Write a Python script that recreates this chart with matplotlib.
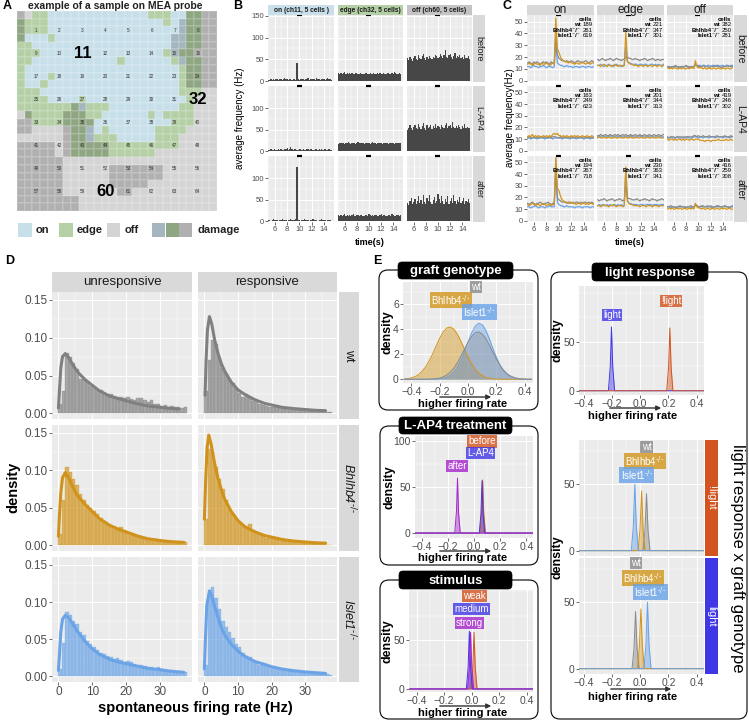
import numpy as np
import matplotlib
matplotlib.use('Agg')
import matplotlib.pyplot as plt
from matplotlib.colors import ListedColormap
from matplotlib.patches import Rectangle, FancyBboxPatch, FancyArrowPatch

plt.rcParams['font.family'] = ['Liberation Sans', 'DejaVu Sans']
plt.rcParams['mathtext.fontset'] = 'dejavusans'

# ---------------- data ----------------
# panel A: MEA probe map, 26x26 sub-cells (o=on e=edge f=off, capitals = damage)
MEA_MAP = [
    "Ff ee ooooo ooooo ooo eee oo EE FF",
    "E eee ooooo ooooo ooooo e o O EE FF",
    "E eee ooooo ooooo ooooo oo O EE FF",
    "E ooo e ooooo ooooo ooooo OO EE FF",
    "ee ooooo ooooo ooooo ooo OO EE FF",
    "eee ooooo ooooo ooooo o e O EE FF",
    "ee ooooo ooooo o e ooooo o e O EE FF",
    "e ooooo ooooo ooooo ooooo e EE FF",
    "eooo e ooooo ooooo ooooo o e EE FF",
    "eoo e ooooo ooooo ooooo oo e EE FF",
    "eee ooooo ooooo ooooo ooo e ee ff",
    "eeee oooo e ooooo ooooo ooo e fff",
    "eeeeeee E O eee ooooo oooo ee fff",
    "fE eeee EEE ee oooooo e o eee e fff",
    "FF eeee EEEE ooooo ooooo eee fff",
    "FF ffff F EE O o e oooooo eeee ffff",
    "ffffff F EE O eee ooooo eee fffff",
    "FFFFF f F EEEEE eeeee eeee fffff",
    "FFFFF f F EEEEE eeeeee fffff fff",
    "FFFFFF fffff fffff fffff fffff",
    "FFFFFF ffffff FFFFF FF fffffff",
    "FFFFFF ffffff FFFFF FF fffffff",
    "FFFFFF ffffff FFFFF fffff ffff",
    "FFFFFF fffffff FF fffff ffffff",
    "FFFFFFFF fffff fffff fffff fff",
    "FFFFFFFF fffff fffff fffff fff",
]
BIG_CHANNELS = [11, 32, 60]
MAP_CATS = ['on', 'edge', 'off', 'damage']

# panel B: average frequency histograms (0.2 s bins starting 4.9 s)
B_COLS = ["on (ch11, 5 cells )", "edge (ch32, 5 cells)", "off (ch60, 5 cells)"]
B_ROWS = ["before", "L-AP4", "after"]
B_ON_BEFORE = [3,2,4,3,5,3,4,6,3,4, 5,3,4,8,5,4,3,6,4,3, 5,4,3,42,4,3,5,4,6,3,
               4,5,7,3,4,6,5,4,3,8, 5,4,3,4,6,5,3,4,7,5, 4,3]
B_EDGE_BEFORE = [18,17,19,16,18,20,17,18,16,19, 17,18,16,17,19,18,17,16,18,17,
                 16,17,18,19,17,16,18,17,16,18, 17,16,18,17,19,16,17,18,17,16,
                 18,19,17,16,18,17,20,18,16,17, 18,17]
B_OFF_BEFORE = [52,48,55,50,47,53,58,51,49,60, 54,50,57,62,52,49,55,51,58,54,
                50,56,53,60,57,52,55,63,58,54, 61,72,56,53,59,62,55,51,57,64,
                53,58,55,61,52,56,50,59,54,52, 57,50]
B_ON_LAP4 = [2,3,4,2,3,5,3,2,6,3, 4,2,3,5,4,8,3,4,9,5, 3,4,6,3,2,4,5,3,4,2,
             3,5,4,3,6,4,3,2,4,5, 3,4,2,6,3,4,5,3,2,4, 3,2]
B_EDGE_LAP4 = [17,18,19,20,18,17,19,18,21,18, 17,19,20,18,17,19,21,18,20,19,
               18,17,19,18,20,19,17,18,21,19, 18,17,19,20,18,19,17,18,20,18,
               19,17,18,20,19,18,17,19,18,20, 18,19]
B_OFF_LAP4 = [50,55,60,53,49,57,62,54,51,64, 56,52,58,66,55,50,60,53,57,61,
              52,58,55,63,54,59,56,52,61,57, 53,60,65,55,58,62,54,68,57,55,
              59,53,61,56,52,58,55,63,54,57, 53,55]
B_ON_AFTER = [2,3,1,2,4,2,3,2,1,3, 2,4,2,3,2,1,3,2,4,2, 3,2,4,125,3,2,1,3,2,4,
              2,3,2,1,3,2,4,2,3,2, 1,3,2,4,2,3,2,1,2,3, 2,1]
B_EDGE_AFTER = [14,13,15,12,14,16,13,14,12,15, 13,14,16,13,12,15,14,13,15,14,
                12,13,15,14,13,16,14,12,15,13, 14,15,13,12,14,16,13,15,14,12,
                13,15,14,13,16,14,12,13,15,14, 13,14]
B_OFF_AFTER = [42,38,46,55,40,44,52,39,47,58, 43,50,41,60,45,39,53,48,62,44,
               40,49,56,43,47,64,51,42,58,46, 40,52,45,59,41,48,55,43,61,47,
               39,50,44,57,42,46,53,40,48,45, 51,43]

# panel C: mean traces, 43 points from 5 to 15.5 s ; [wt, Bhlhb4, Islet1]
C_COLS = ["on", "edge", "off"]
C_ON_BEFORE = [
    [15,16,15,14,16,15,16,15,14,15,16,15,16,15,14,16,15,15,38,
     22,19,18,17,17,16,17,16,16,17,16,15,16,17,16,16,15,16,17,16,15,16,17,16],
    [14,15,14,13,14,15,14,14,13,15,14,14,15,14,13,14,15,14,53,
     27,24,20,18,17,16,16,15,16,15,15,14,15,15,14,15,16,15,14,15,15,14,15,15],
    [12,12,11,12,13,12,12,11,12,12,13,12,11,12,12,12,11,12,33,
     15,14,13,13,12,12,13,12,12,12,11,12,12,12,11,12,12,12,11,12,12,12,11,12]]
C_EDGE_BEFORE = [
    [18,17,18,19,18,17,18,18,19,18,17,18,19,18,18,17,18,18,20,
     20,19,19,18,18,19,18,18,17,18,18,19,18,17,18,18,19,18,17,18,18,17,18,18],
    [13,13,12,13,14,13,12,13,13,12,13,14,13,12,13,13,12,13,41,
     17,15,14,14,13,13,13,12,13,13,12,13,13,12,13,13,12,13,13,12,13,13,12,13],
    [13,13,14,13,12,13,13,14,13,13,12,13,14,13,13,12,13,13,28,
     16,15,15,14,14,14,14,13,14,14,13,14,14,13,13,14,14,13,14,13,14,13,13,14]]
C_OFF_BEFORE = [
    [12,12,11,12,12,13,12,12,11,12,12,12,13,12,12,11,12,12,13,
     13,12,12,12,13,12,12,12,11,12,12,12,13,12,12,12,11,12,12,12,13,12,12,12],
    [11,10,11,10,11,11,10,10,11,10,11,10,10,11,10,11,11,10,17,
     12,11,11,11,10,11,10,10,11,10,10,11,10,10,11,10,10,11,10,10,11,10,10,11],
    [12,11,12,12,11,12,12,11,12,12,11,12,12,12,11,12,12,12,14,
     13,13,13,12,13,13,12,13,13,12,13,13,12,13,13,12,13,13,12,13,13,12,13,13]]
C_ON_LAP4 = [
    [11,12,11,11,12,11,12,11,11,12,11,12,11,11,12,11,12,12,12,
     11,11,12,11,11,12,11,11,11,12,11,11,12,11,11,12,11,11,12,11,11,12,11,11],
    [12,13,12,14,12,13,12,13,12,12,13,12,13,12,13,12,14,15,14,
     15,13,13,12,13,12,13,12,12,13,12,13,12,13,12,12,13,12,12,13,12,12,13,12],
    [11,11,10,11,11,11,10,11,11,11,11,10,11,11,11,11,10,11,11,
     11,11,11,10,11,11,11,11,10,11,11,11,10,11,11,11,11,10,11,11,11,10,11,11]]
C_EDGE_LAP4 = [
    [13,13,14,13,13,14,13,13,14,13,13,14,13,14,13,13,14,13,14,
     13,13,14,13,13,14,13,13,14,13,13,14,13,13,14,13,13,14,13,13,14,13,13,14],
    [11,12,11,11,12,11,11,12,11,11,11,12,11,11,12,11,11,11,12,
     11,11,12,11,11,11,12,11,11,12,11,11,11,12,11,11,12,11,11,11,12,11,11,11],
    [12,12,12,13,12,12,12,12,13,12,12,12,12,12,13,12,12,12,12,
     12,12,13,12,12,12,12,12,13,12,12,12,12,13,12,12,12,12,12,13,12,12,12,12]]
C_OFF_LAP4 = [
    [12,11,12,12,12,11,12,12,12,12,11,12,12,12,12,12,12,13,13,
     12,13,12,12,13,12,12,12,13,12,12,12,12,13,12,12,12,12,13,12,12,12,13,12],
    [10,9,10,10,9,10,9,10,10,9,10,9,10,10,9,10,10,9,10,
     10,10,9,9,9,8,9,9,9,8,9,9,9,9,10,9,9,9,9,10,9,9,10,9],
    [11,11,12,11,11,11,12,11,11,11,12,11,11,12,11,11,11,12,12,
     12,11,12,12,11,12,12,12,11,12,12,12,11,12,12,12,12,11,12,12,12,11,12,12]]
C_ON_AFTER = [
    [15,14,15,16,15,14,15,15,16,15,14,15,15,16,15,14,15,15,42,
     20,18,17,16,16,16,15,16,16,15,16,15,16,16,15,16,15,16,16,15,16,15,16,15],
    [14,13,14,15,14,13,14,14,13,14,15,14,13,14,14,13,14,14,54,
     28,26,21,18,17,16,16,15,15,16,15,15,14,15,15,14,15,15,14,15,14,15,15,14],
    [12,12,11,12,12,13,12,11,12,12,12,11,12,12,13,12,12,12,53,
     16,14,13,13,12,12,13,12,12,12,12,11,12,12,12,12,11,12,12,12,12,11,12,12]]
C_EDGE_AFTER = [
    [18,17,18,18,19,18,17,18,18,19,18,17,18,18,19,18,17,18,30,
     20,19,19,18,18,18,19,18,17,18,18,19,18,18,17,18,19,18,18,17,18,18,19,18],
    [13,13,12,13,14,13,13,12,13,13,14,13,12,13,13,13,12,13,46,
     18,15,14,14,13,13,13,13,12,13,13,13,12,13,13,13,12,13,13,13,12,13,13,13],
    [13,14,13,14,13,13,14,13,14,13,13,14,13,14,13,14,13,13,44,
     17,15,15,14,14,14,14,13,14,14,14,13,14,14,14,14,13,14,14,14,13,14,14,14]]
C_OFF_AFTER = [
    [12,12,13,12,12,11,12,12,13,12,12,12,11,12,12,13,12,12,14,
     13,12,12,13,12,12,12,13,12,12,11,12,12,13,12,12,12,12,13,12,12,11,12,12],
    [10,11,10,11,10,10,11,10,11,10,10,11,10,10,11,10,11,10,15,
     12,11,11,10,11,10,10,11,10,10,11,10,10,11,10,10,11,10,11,10,10,11,10,10],
    [12,12,11,12,12,12,11,12,12,12,12,11,12,12,12,11,12,12,13,
     13,12,12,12,13,12,12,12,12,13,12,12,12,12,13,12,12,12,13,12,12,12,12,13]]
CELLS_BEFORE = [[189, 261, 619], [221, 347, 301], [382, 250, 281]]
CELLS_LAP4 = [[163, 249, 623], [201, 344, 313], [419, 246, 302]]
CELLS_AFTER = [[194, 267, 718], [230, 363, 341], [416, 259, 308]]

# panel D: spontaneous firing rate histograms (1 Hz bins from 0) and fitted densities
D_COLS = ["unresponsive", "responsive"]
WT_UN_BARS = [0.012,0.030,0.080,0.075,0.066,0.058,0.046,0.045,0.040,0.036,
              0.034,0.030,0.031,0.027,0.025,0.026,0.023,0.022,0.022,0.020,
              0.022,0.019,0.018,0.020,0.020,0.017,0.015,0.017,0.012,0.013,
              0.010,0.011,0.009,0.010,0.008,0.008,0.007,0.008]
WT_RE_BARS = [0.030,0.070,0.097,0.092,0.072,0.060,0.052,0.045,0.040,0.032,
              0.027,0.022,0.026,0.020,0.016,0.015,0.012,0.011,0.010,0.009,
              0.008,0.008,0.007,0.006,0.006,0.005,0.005,0.004,0.004,0.004,
              0.003,0.003,0.003,0.002,0.002,0.002,0.002,0.002]
BHL_UN_BARS = [0.015,0.060,0.105,0.098,0.088,0.080,0.068,0.060,0.054,0.050,
               0.046,0.042,0.036,0.032,0.027,0.025,0.022,0.020,0.024,0.019,
               0.016,0.014,0.013,0.012,0.013,0.011,0.010,0.009,0.008,0.007,
               0.006,0.006,0.005,0.005,0.004,0.004,0.004,0.004]
BHL_RE_BARS = [0.035,0.128,0.125,0.105,0.088,0.075,0.060,0.048,0.042,0.035,
               0.030,0.026,0.024,0.028,0.020,0.017,0.015,0.013,0.010,0.010,
               0.009,0.008,0.007,0.006,0.006,0.005,0.004,0.004,0.004,0.003,
               0.003,0.003,0.002,0.002,0.002,0.002,0.001,0.001]
ISL_UN_BARS = [0.010,0.045,0.087,0.083,0.074,0.070,0.060,0.056,0.048,0.044,
               0.040,0.036,0.032,0.030,0.028,0.026,0.024,0.025,0.022,0.020,
               0.021,0.019,0.017,0.016,0.015,0.014,0.013,0.012,0.011,0.012,
               0.010,0.009,0.008,0.008,0.007,0.007,0.006,0.006]
ISL_RE_BARS = [0.015,0.112,0.120,0.105,0.090,0.075,0.066,0.060,0.052,0.044,
               0.040,0.032,0.028,0.026,0.022,0.020,0.016,0.015,0.014,0.012,
               0.011,0.010,0.009,0.008,0.008,0.007,0.006,0.006,0.005,0.005,
               0.004,0.004,0.004,0.003,0.003,0.003,0.003,0.002]
WT_UN_CX = [0, 0.3, 0.7, 1.2, 2, 3, 4, 5, 6, 8, 10, 12, 15, 18, 20, 23, 26, 30, 33, 35.5]
WT_UN_CY = [0.007, 0.03, 0.06, 0.075, 0.079, 0.074, 0.066, 0.059, 0.053, 0.044, 0.037,
            0.030, 0.023, 0.019, 0.0165, 0.013, 0.010, 0.008, 0.0065, 0.0057]
WT_RE_CX = [0.2, 0.5, 0.9, 1.5, 2.2, 3, 4, 5, 6, 8, 10, 12, 15, 18, 20, 23, 26, 30, 33, 36]
WT_RE_CY = [0.024, 0.07, 0.11, 0.128, 0.118, 0.098, 0.08, 0.066, 0.056, 0.041, 0.031,
            0.025, 0.018, 0.013, 0.011, 0.008, 0.0065, 0.005, 0.004, 0.0035]
BHL_UN_CX = [0, 0.3, 0.7, 1.2, 2, 3, 4, 5, 6, 8, 10, 12, 15, 18, 20, 23, 26, 30, 33, 37]
BHL_UN_CY = [0.012, 0.04, 0.07, 0.09, 0.097, 0.09, 0.08, 0.071, 0.064, 0.054, 0.045,
             0.036, 0.027, 0.021, 0.018, 0.013, 0.009, 0.0065, 0.005, 0.004]
BHL_RE_CX = [0, 0.4, 0.8, 1.3, 2, 3, 4, 5, 6, 8, 10, 12, 15, 18, 20, 23, 26, 30, 33, 36]
BHL_RE_CY = [0.035, 0.09, 0.13, 0.147, 0.135, 0.11, 0.09, 0.075, 0.062, 0.045, 0.033,
             0.025, 0.018, 0.013, 0.011, 0.008, 0.006, 0.0045, 0.0035, 0.003]
ISL_UN_CX = [0, 0.3, 0.7, 1.2, 2, 3, 4, 5, 6, 8, 10, 12, 15, 18, 20, 23, 26, 30, 33, 37]
ISL_UN_CY = [0.008, 0.03, 0.06, 0.077, 0.082, 0.079, 0.072, 0.065, 0.058, 0.046, 0.037,
             0.030, 0.023, 0.019, 0.017, 0.014, 0.011, 0.009, 0.007, 0.0055]
ISL_RE_CX = [0, 0.3, 0.7, 1.5, 2.2, 3, 4, 5, 6, 8, 10, 12, 15, 18, 20, 23, 26, 30, 33, 36]
ISL_RE_CY = [0.01, 0.05, 0.095, 0.115, 0.108, 0.095, 0.08, 0.066, 0.056, 0.043, 0.034,
             0.027, 0.020, 0.016, 0.013, 0.010, 0.008, 0.006, 0.005, 0.004]

# panel E: posterior densities of effect on firing rate
GRAFT_X = np.linspace(-0.45, 0.45, 37)
GRAFT_BHL = [0.025,0.054,0.11,0.21,0.37,0.63,0.99,1.47,2.04,2.68,3.29,3.80,4.12,4.19,
             4.02,3.61,3.05,2.42,1.80,1.26,0.83,0.51,0.30,0.16,0.083,0.04,0.018,
             0.008,0.003,0.001,0,0,0,0,0,0,0]
GRAFT_ISL = [0,0,0,0,0,0,0.001,0.002,0.005,0.011,0.029,0.068,0.148,0.30,0.56,0.95,1.51,
             2.21,2.98,3.70,4.25,4.49,4.39,3.95,3.28,2.51,1.78,1.16,0.70,0.39,0.20,
             0.094,0.041,0.017,0.006,0.002,0.001]
GRAFT_WT = [0,0,0,0,0.001,0.002,0.004,0.01,0.023,0.049,0.099,0.19,0.34,0.57,0.90,1.33,
            1.85,2.42,2.97,3.43,3.72,3.80,3.63,3.27,2.76,2.19,1.63,1.14,0.75,0.46,0.27,
            0.15,0.075,0.036,0.016,0.007,0.003]
SPIKE_Y_LAP4 = [0, 0, 22, 58, 22, 0, 0]
LAP4_BEFORE_X = [-0.45, 0.045, 0.058, 0.066, 0.074, 0.087, 0.45]
LAP4_LAP4_X = [-0.45, 0.040, 0.053, 0.061, 0.069, 0.082, 0.45]
LAP4_LAP4_Y = [0, 0, 21, 57, 21, 0, 0]
LAP4_AFTER_X = [-0.45, -0.147, -0.134, -0.126, -0.118, -0.105, 0.45]
LAP4_AFTER_Y = [0, 0, 23, 60, 23, 0, 0]
STIM_WEAK_X = [-0.45, -0.005, 0.008, 0.017, 0.026, 0.039, 0.45]
STIM_WEAK_Y = [0, 0, 22, 58, 22, 0, 0]
STIM_MED_X = [-0.45, -0.039, -0.026, -0.017, -0.008, 0.005, 0.45]
STIM_MED_Y = [0, 0, 22, 59, 22, 0, 0]
STIM_STRONG_X = [-0.45, -0.030, -0.017, -0.008, 0.001, 0.014, 0.45]
STIM_STRONG_Y = [0, 0, 21, 58, 21, 0, 0]
LR_LIGHT_X = [-0.44, -0.227, -0.214, -0.205, -0.196, -0.183, 0.45]
LR_LIGHT_Y = [0, 0, 24, 65, 24, 0, 0]
LR_NOLIGHT_X = [-0.44, 0.188, 0.201, 0.210, 0.219, 0.232, 0.45]
LR_NOLIGHT_Y = [0, 0, 24, 64, 24, 0, 0]
NL_ISL_X = [-0.44, -0.064, -0.050, -0.039, -0.028, -0.014, 0.45]
NL_ISL_Y = [0, 0, 18, 50, 18, 0, 0]
NL_BHL_X = [-0.44, -0.016, -0.002, 0.009, 0.020, 0.034, 0.45]
NL_BHL_Y = [0, 0, 16, 45, 16, 0, 0]
NL_WT_X = [-0.44, 0.019, 0.033, 0.044, 0.055, 0.069, 0.45]
NL_WT_Y = [0, 0, 15, 43, 15, 0, 0]
L_WT_X = [-0.44, -0.059, -0.045, -0.034, -0.023, -0.009, 0.45]
L_WT_Y = [0, 0, 15, 43, 15, 0, 0]
L_BHL_X = [-0.44, -0.021, -0.007, 0.004, 0.015, 0.029, 0.45]
L_BHL_Y = [0, 0, 16, 45, 16, 0, 0]
L_ISL_X = [-0.44, 0.026, 0.040, 0.051, 0.062, 0.076, 0.45]
L_ISL_Y = [0, 0, 18, 50, 18, 0, 0]

# ---------------- figure helpers ----------------
W, H = 749, 721
fig = plt.figure(figsize=(W / 100, H / 100), dpi=100)

GREY_TXT = '#4d4d4d'
C_WT, C_BHL, C_ISL = '#8a8a8a', '#d3951c', '#68a2e8'
C_RED, C_BLUE, C_PURP = '#d2541f', '#3f37e6', '#a526cc'
BHL_LAB = r'Bhlhb4$^{\text{-/-}}$'
ISL_LAB = r'Islet1$^{\text{-/-}}$'
BHL_PLAIN = 'Bhlhb4\u207b/\u207b'
ISL_PLAIN = 'Islet1\u207b/\u207b'


def add_ax(x0, y0, x1, y1):
    return fig.add_axes([x0 / W, 1 - y1 / H, (x1 - x0) / W, (y1 - y0) / H])


def ftext(x, y, s, **kw):
    return fig.text(x / W, 1 - y / H, s, **kw)


def frect(x0, y0, x1, y1, **kw):
    fig.add_artist(Rectangle((x0 / W, 1 - y1 / H), (x1 - x0) / W, (y1 - y0) / H,
                             transform=fig.transFigure, **kw))


def strip(x0, y0, x1, y1, s, fc='#d9d9d9', color='#1a1a1a', fs=7, rot=0, **kw):
    frect(x0, y0, x1, y1, fc=fc, ec='none')
    ftext((x0 + x1) / 2, (y0 + y1) / 2, s, ha='center', va='center', rotation=rot,
          fontsize=fs, color=color, **kw)


def gg(ax, xlim, ylim, xmaj, ymaj, xmin=(), ymin=(), fs=6, show_x=True, show_y=True):
    ax.set_facecolor('#ebebeb')
    ax.set_xlim(xlim)
    ax.set_ylim(ylim)
    ax.set_xticks(xmaj)
    ax.set_yticks(ymaj)
    ax.set_xticks(xmin, minor=True)
    ax.set_yticks(ymin, minor=True)
    ax.grid(True, which='major', color='white', lw=0.7)
    ax.grid(True, which='minor', color='white', lw=0.35)
    ax.set_axisbelow(True)
    for s in ax.spines.values():
        s.set_visible(False)
    ax.tick_params(which='major', length=2, width=0.5, color='#333333', labelsize=fs,
                   labelcolor=GREY_TXT, pad=1)
    ax.tick_params(which='minor', length=0)
    ax.tick_params(labelbottom=show_x, bottom=show_x, labelleft=show_y, left=show_y)


def rbox(x0, y0, x1, y1, r=8, **kw):
    fig.add_artist(FancyBboxPatch((x0 / 100, (H - y1) / 100), (x1 - x0) / 100, (y1 - y0) / 100,
                                  boxstyle='round,pad=0,rounding_size=%g' % (r / 100),
                                  transform=fig.dpi_scale_trans, zorder=-2, **kw))


def arrow(x0, x1, y):
    fig.add_artist(FancyArrowPatch((x0 / 100, (H - y) / 100), (x1 / 100, (H - y) / 100),
                                   transform=fig.dpi_scale_trans, arrowstyle='-|>',
                                   mutation_scale=7, lw=1.0, color='#333333'))


def tag(ax, x, y, s, c, fs=7):
    ax.text(x, y, s, ha='center', va='center', fontsize=fs, color='white',
            bbox=dict(boxstyle='square,pad=0.12', fc=c, ec='none', alpha=0.8))


def ridge(ax, x, y, c, alpha=0.45):
    ax.fill_between(x, y, color=c, alpha=alpha, lw=0)
    ax.plot(x, y, color=c, lw=0.7)


# ---------------- panel A ----------------
ftext(3, 6, 'A', fontsize=9, fontweight='bold', va='center')
ftext(115, 6, 'example of a sample on MEA probe', fontsize=7.5, fontweight='bold',
      ha='center', va='center', color='#222222')
code = {'o': 0, 'e': 1, 'f': 2, 'O': 3, 'E': 4, 'F': 5}
rows = []
for r in MEA_MAP:
    r = r.replace(' ', '')
    r = r.ljust(26, r[-1])[:26]
    rows.append([code[c] for c in r])
grid = np.array(rows)
map_colors = ['#c7dfe9', '#b5cfa6', '#d4d4d4', '#a5b6bf', '#8fa682', '#b0b0b0']
axA = add_ax(17, 11, 217, 211)
axA.pcolormesh(np.arange(27), np.arange(27), grid, cmap=ListedColormap(map_colors),
               vmin=-0.5, vmax=5.5, edgecolors=(1, 1, 1, 0.12), lw=0.2)
axA.set_xlim(0, 26)
axA.set_ylim(26, 0)
axA.axis('off')
for k in range(64):
    cx, cy = 2.5 + 3 * (k % 8), 2.5 + 3 * (k // 8)
    if k + 1 in BIG_CHANNELS:
        axA.text(cx, cy, str(k + 1), ha='center', va='center', fontsize=12,
                 fontweight='bold', color='black')
    else:
        axA.text(cx, cy, str(k + 1), ha='center', va='center', fontsize=3.3, color='#333333')
# legend
leg_boxes = [(18, 32, 0), (59, 73, 1), (107, 120, 2), (152, 165, 3), (166, 179, 4), (179, 192, 5)]
for x0, x1, ci in leg_boxes:
    frect(x0, 223, x1, 237, fc=map_colors[ci], ec='none')
for x, s in zip([36, 77, 125, 197], MAP_CATS):
    ftext(x, 230, s, fontsize=8, fontweight='bold', va='center', color='#222222')

# ---------------- panel B ----------------
ftext(233, 6, 'B', fontsize=9, fontweight='bold', va='center')
B_X = [(268, 334), (338, 403), (407, 472)]
B_Y = [(15, 82), (86, 152), (156, 222)]
b_data = [[B_ON_BEFORE, B_EDGE_BEFORE, B_OFF_BEFORE],
          [B_ON_LAP4, B_EDGE_LAP4, B_OFF_LAP4],
          [B_ON_AFTER, B_EDGE_AFTER, B_OFF_AFTER]]
strip_fc = ['#c9e0ea', '#b4cfa6', '#c4c4c4']
for j, (x0, x1) in enumerate(B_X):
    strip(x0, 5, x1, 15, B_COLS[j], fc=strip_fc[j], fs=4.8, fontweight='bold')
for i, (y0, y1) in enumerate(B_Y):
    strip(473, y0, 485, y1, B_ROWS[i], fs=6.5, rot=270)
    for j, (x0, x1) in enumerate(B_X):
        ax = add_ax(x0, y0, x1, y1)
        gg(ax, (4.9, 15.6), (-2, 151.6), [6, 8, 10, 12, 14],
           [0, 50, 100, 150] if i == 0 else [0, 50, 100], [5, 7, 9, 11, 13, 15],
           [25, 75, 125], fs=5.5, show_x=(i == 2), show_y=(j == 0))
        v = b_data[i][j]
        xs = 4.9 + 0.2 * np.arange(len(v)) + 0.1
        ax.bar(xs, v, width=0.2, color='#474747', lw=0)
        ax.plot([9.55, 10.35], [151.6, 151.6], color='black', lw=1.6,
                solid_capstyle='butt', clip_on=False)
ftext(240, 118, 'average frequency (Hz)', rotation=90, fontsize=7, ha='center', va='center')
ftext(370, 242, 'time(s)', fontsize=6.5, fontweight='bold', ha='center', va='center')

# ---------------- panel C ----------------
ftext(503, 6, 'C', fontsize=9, fontweight='bold', va='center')
C_X = [(527, 594), (597, 664), (667, 733)]
c_data = [[C_ON_BEFORE, C_EDGE_BEFORE, C_OFF_BEFORE],
          [C_ON_LAP4, C_EDGE_LAP4, C_OFF_LAP4],
          [C_ON_AFTER, C_EDGE_AFTER, C_OFF_AFTER]]
c_cells = [CELLS_BEFORE, CELLS_LAP4, CELLS_AFTER]
for j, (x0, x1) in enumerate(C_X):
    strip(x0, 5, x1, 15, C_COLS[j], fs=8.5)
for i, (y0, y1) in enumerate(B_Y):
    strip(734, y0, 747, y1, B_ROWS[i], fs=7.5, rot=270)
    for j, (x0, x1) in enumerate(C_X):
        ax = add_ax(x0, y0, x1, y1)
        gg(ax, (4.9, 15.6), (-1, 55.5), [6, 8, 10, 12, 14], [0, 10, 20, 30, 40, 50],
           [5, 7, 9, 11, 13, 15], [5, 15, 25, 35, 45], fs=5.5,
           show_x=(i == 2), show_y=(j == 0))
        wt, bhl, isl = c_data[i][j]
        for series, col in [(isl, C_ISL), (wt, C_WT), (bhl, C_BHL)]:
            ax.plot(np.linspace(5, 15.5, len(series)), series, color=col, lw=0.9)
        ax.plot([9.5, 10.3], [55.5, 55.5], color='black', lw=1.6,
                solid_capstyle='butt', clip_on=False)
        xr = x1 - 1.5
        n_wt, n_bhl, n_isl = c_cells[i][j]
        ftext(xr, y0 + 4.2, 'cells', fontsize=4.3, fontweight='bold', ha='right', va='center')
        for k, (lab, n) in enumerate([('wt', n_wt), (BHL_PLAIN, n_bhl), (ISL_PLAIN, n_isl)]):
            yy = y0 + 9.6 + 5.4 * k
            ftext(xr, yy, str(n), fontsize=4.3, ha='right', va='center')
            ftext(xr - 11.5, yy, lab, fontsize=4.2, fontweight='bold', ha='right', va='center')
ftext(510, 118, 'average frequency(Hz)', rotation=90, fontsize=7, ha='center', va='center')
ftext(630, 242, 'time(s)', fontsize=6.5, fontweight='bold', ha='center', va='center')

# ---------------- panel D ----------------
ftext(5, 261, 'D', fontsize=9, fontweight='bold', va='center')
D_X = [(52, 192), (198, 337)]
D_Y = [(292, 419), (425, 551), (557, 682)]
d_bars = [[WT_UN_BARS, WT_RE_BARS], [BHL_UN_BARS, BHL_RE_BARS], [ISL_UN_BARS, ISL_RE_BARS]]
d_curves = [[(WT_UN_CX, WT_UN_CY), (WT_RE_CX, WT_RE_CY)],
            [(BHL_UN_CX, BHL_UN_CY), (BHL_RE_CX, BHL_RE_CY)],
            [(ISL_UN_CX, ISL_UN_CY), (ISL_RE_CX, ISL_RE_CY)]]
d_cols = ['#808080', '#d0921a', '#6aa3e6']
d_rows = [('wt', 'normal'), (BHL_LAB, 'italic'), (ISL_LAB, 'italic')]
for j, (x0, x1) in enumerate(D_X):
    strip(x0, 272, x1, 292, D_COLS[j], fs=9.5)
for i, (y0, y1) in enumerate(D_Y):
    strip(339, y0, 359, y1, d_rows[i][0], fs=9, rot=270, fontstyle=d_rows[i][1])
    for j, (x0, x1) in enumerate(D_X):
        ax = add_ax(x0, y0, x1, y1)
        gg(ax, (-1.9, 39.4), (-0.0075, 0.1605), [0, 10, 20, 30], [0, 0.05, 0.10, 0.15],
           [5, 15, 25, 35], [0.025, 0.075, 0.125], fs=8.5,
           show_x=(i == 2), show_y=(j == 0))
        ax.set_yticklabels(['0.00', '0.05', '0.10', '0.15'])
        v = d_bars[i][j]
        ax.bar(np.arange(len(v)) + 0.5, v, width=1.0, color=d_cols[i], alpha=0.65,
               edgecolor=d_cols[i], lw=0.3)
        cx, cy = d_curves[i][j]
        ax.plot(cx, cy, color=d_cols[i], lw=2.2, solid_capstyle='round')
ftext(13, 487, 'density', rotation=90, fontsize=10.5, fontweight='bold', ha='center', va='center')
ftext(195, 708, 'spontaneous firing rate (Hz)', fontsize=10.5, fontweight='bold',
      ha='center', va='center')

# ---------------- panel E ----------------
ftext(373, 261, 'E', fontsize=9, fontweight='bold', va='center')
boxes = [((379, 270, 538, 410), (398, 262, 513, 279), 'graft genotype'),
         ((380, 426, 538, 565), (399, 417, 512, 434), 'L-AP4 treatment'),
         ((380, 580, 538, 719), (399, 571, 512, 589), 'stimulus'),
         ((551, 272, 747, 719), (592, 263, 708, 281), 'light response')]
for (bx0, by0, bx1, by1), (tx0, ty0, tx1, ty1), title in boxes:
    rbox(bx0, by0, bx1, by1, r=9, fc='white', ec='black', lw=0.8)
    rbox(tx0, ty0, tx1, ty1, r=4, fc='black', ec='black', lw=0.5)
    ftext((tx0 + tx1) / 2, (ty0 + ty1) / 2 + 0.5, title, fontsize=9.5, fontweight='bold',
          color='white', ha='center', va='center')

XT = [-0.4, -0.2, 0.0, 0.2, 0.4]
XM = [-0.3, -0.1, 0.1, 0.3]

# graft genotype
ax = add_ax(403, 282, 533, 383)
gg(ax, (-0.46, 0.46), (-0.3, 7.8), XT, [0, 2, 4, 6], XM, [1, 3, 5, 7], fs=7.5)
ridge(ax, GRAFT_X, GRAFT_BHL, C_BHL)
ridge(ax, GRAFT_X, GRAFT_ISL, C_ISL)
ridge(ax, GRAFT_X, GRAFT_WT, C_WT, alpha=0.35)
tag(ax, 0.054, 7.4, 'wt', C_WT)
tag(ax, -0.12, 6.35, BHL_LAB, C_BHL)
tag(ax, 0.08, 5.4, ISL_LAB, C_ISL)
ftext(388, 332, 'density', rotation=90, fontsize=9, fontweight='bold', ha='center', va='center')
arrow(437, 494, 397)
ftext(463, 404, 'higher firing rate', fontsize=8, fontweight='bold', ha='center', va='center')

# L-AP4 treatment
ax = add_ax(415, 436, 533, 538)
gg(ax, (-0.45, 0.45), (-5.4, 106), XT, [0, 50, 100], XM, [25, 75], fs=7.5)
ridge(ax, LAP4_BEFORE_X, SPIKE_Y_LAP4, C_RED)
ridge(ax, LAP4_LAP4_X, LAP4_LAP4_Y, C_BLUE)
ridge(ax, LAP4_AFTER_X, LAP4_AFTER_Y, C_PURP)
tag(ax, 0.063, 100, 'before', C_RED)
tag(ax, 0.051, 87.3, 'L-AP4', C_BLUE)
tag(ax, -0.13, 73, 'after', C_PURP)
ftext(390, 487, 'density', rotation=90, fontsize=9, fontweight='bold', ha='center', va='center')
arrow(437, 494, 551)
ftext(463, 558, 'higher firing rate', fontsize=8, fontweight='bold', ha='center', va='center')

# stimulus
ax = add_ax(409, 590, 533, 692)
gg(ax, (-0.456, 0.446), (-3.1, 101.3), XT, [0, 50], XM, [25, 75, 100], fs=7.5)
ridge(ax, STIM_WEAK_X, STIM_WEAK_Y, C_RED)
ridge(ax, STIM_MED_X, STIM_MED_Y, C_BLUE)
ridge(ax, STIM_STRONG_X, STIM_STRONG_Y, C_PURP)
tag(ax, 0.018, 95.2, 'weak', C_RED)
tag(ax, 0.0, 82.1, 'medium', C_BLUE)
tag(ax, -0.015, 67.8, 'strong', C_PURP)
ftext(388, 641, 'density', rotation=90, fontsize=9, fontweight='bold', ha='center', va='center')
arrow(437, 494, 706)
ftext(463, 713, 'higher firing rate', fontsize=8, fontweight='bold', ha='center', va='center')

# light response
ax = add_ax(579, 286, 704, 395)
gg(ax, (-0.436, 0.453), (-4.3, 106.7), XT, [0, 50], XM, [25, 75, 100], fs=7.5)
ridge(ax, LR_LIGHT_X, LR_LIGHT_Y, C_BLUE)
ridge(ax, LR_NOLIGHT_X, LR_NOLIGHT_Y, C_RED)
tag(ax, -0.2, 77.4, 'light', C_BLUE)
tag(ax, 0.218, 91.7, '!light', C_RED)
ftext(558, 340, 'density', rotation=90, fontsize=9, fontweight='bold', ha='center', va='center')
arrow(607, 664, 408)
ftext(633, 416, 'higher firing rate', fontsize=8, fontweight='bold', ha='center', va='center')

# light response x graft genotype
lr_rows = [((440, 556), '!light', C_RED,
            [(NL_WT_X, NL_WT_Y, C_WT), (NL_BHL_X, NL_BHL_Y, C_BHL), (NL_ISL_X, NL_ISL_Y, C_ISL)],
            [(0.044, 78.2), (0.032, 67.4), (-0.025, 57)]),
           ((558, 674), 'light', C_BLUE,
            [(L_WT_X, L_WT_Y, C_WT), (L_BHL_X, L_BHL_Y, C_BHL), (L_ISL_X, L_ISL_Y, C_ISL)],
            [(-0.032, 79.7), (0.019, 68.3), (0.071, 57.7)])]
for i, ((y0, y1), lab, sc, curves, tags) in enumerate(lr_rows):
    ax = add_ax(579, y0, 704, y1)
    gg(ax, (-0.436, 0.453), (-4, 83.4), XT, [0, 50], XM, [25, 75], fs=7.5, show_x=(i == 1))
    for cx, cy, c in curves:
        ridge(ax, cx, cy, c)
    for (tx, ty), s, c in zip(tags, ['wt', BHL_LAB, ISL_LAB], [C_WT, C_BHL, C_ISL]):
        tag(ax, tx, ty, s, c)
    strip(704.5, y0, 718, y1, lab, fc=sc, color='white', fs=8, rot=270)
ftext(558, 557, 'density', rotation=90, fontsize=9, fontweight='bold', ha='center', va='center')
arrow(608, 674, 689)
ftext(633, 697, 'higher firing rate', fontsize=8, fontweight='bold', ha='center', va='center')
ftext(738, 558, 'light response x graft genotype', rotation=270, fontsize=12,
      ha='center', va='center')

fig.savefig('out.png', dpi=100)
